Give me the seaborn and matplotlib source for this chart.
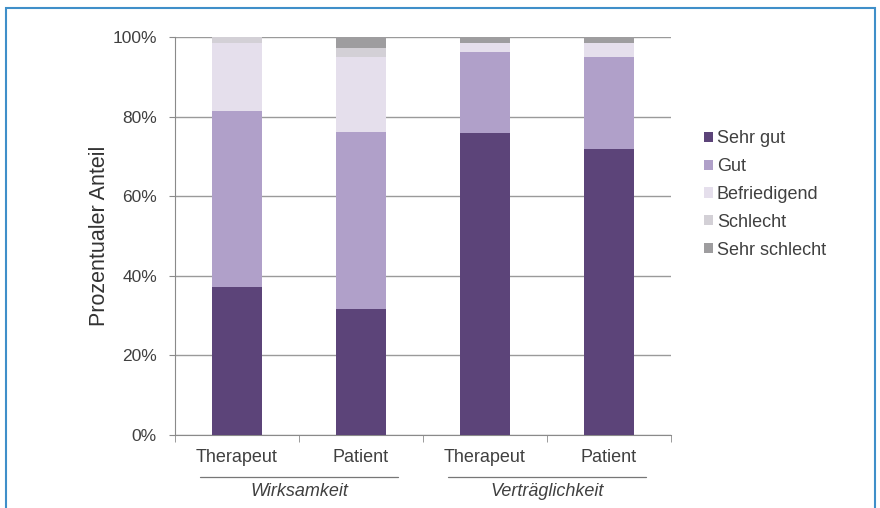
import numpy as np
import pandas as pd
import seaborn as sns
import matplotlib.pyplot as plt
from matplotlib.patches import Rectangle, Patch
from matplotlib.lines import Line2D

# --- data (percent per rating) ---
groups = ["Wirksamkeit", "Wirksamkeit", "Verträglichkeit", "Verträglichkeit"]
raters = ["Therapeut", "Patient", "Therapeut", "Patient"]
ratings = ["Sehr gut", "Gut", "Befriedigend", "Schlecht", "Sehr schlecht"]
sehr_gut = [37.2, 31.7, 75.9, 71.9]
gut = [44.3, 44.4, 20.3, 23.2]
befriedigend = [16.9, 19.0, 2.2, 3.5]
schlecht = [1.6, 2.2, 0.0, 0.0]
sehr_schlecht = [0.0, 2.7, 1.6, 1.4]
colors = ["#5c4479", "#b0a0c9", "#e5dfec", "#d3d0d6", "#9e9d9f"]

# --- build table ---
keys = [f"{g}-{r}" for g, r in zip(groups, raters)]
df = pd.DataFrame({"key": keys, "Sehr gut": sehr_gut, "Gut": gut,
                   "Befriedigend": befriedigend, "Schlecht": schlecht,
                   "Sehr schlecht": sehr_schlecht})
cum = df[ratings].cumsum(axis=1)

sns.set_style("white")
plt.rcParams["font.family"] = ["Liberation Sans", "DejaVu Sans"]

fig = plt.figure(figsize=(8.8, 5.08), dpi=100)
ax = fig.add_axes([175 / 880, 1 - 435 / 508, 496 / 880, 398 / 508])

# stacked bars: draw cumulative totals from the top layer down
for rating, col in zip(ratings[::-1], colors[::-1]):
    sns.barplot(x=df["key"], y=cum[rating], order=keys, color=col,
                width=0.4, saturation=1, linewidth=0, edgecolor="none",
                ax=ax, zorder=3)

ax.set_ylim(0, 100)
ax.set_xlim(-0.5, 3.5)
ax.set_yticks(np.arange(0, 101, 20))
ax.set_yticklabels([f"{v}%" for v in range(0, 101, 20)])
ax.yaxis.grid(True, color="#9a9a9a", linewidth=1, zorder=0)
ax.set_axisbelow(True)
for s in ["top", "right"]:
    ax.spines[s].set_visible(False)
for s in ["left", "bottom"]:
    ax.spines[s].set_color("#8a8a8a")
ax.tick_params(axis="y", length=4, color="#8a8a8a", labelsize=12.5,
               labelcolor="#404040", pad=9, left=True)
ax.set_xticks(range(4))
ax.set_xticklabels(raters)
ax.tick_params(axis="x", length=0, labelsize=13, labelcolor="#404040", pad=10)
ax.set_xticks(np.arange(-0.5, 4, 1), minor=True)
ax.tick_params(axis="x", which="minor", length=5, color="#8a8a8a", bottom=True)
ax.set_xlabel("")
ax.set_ylabel("Prozentualer Anteil", fontsize=15.5, color="#333333", labelpad=2)

# group labels with lines
for i, g in enumerate(["Wirksamkeit", "Verträglichkeit"]):
    x0, x1 = 2 * i - 0.3, 2 * i + 1.3
    ax.add_line(Line2D([x0, x1], [-10.5, -10.5], color="#777777", lw=0.9,
                       transform=ax.transData, clip_on=False))
    ax.text(2 * i + 0.5, -14.2, g, ha="center", va="center", style="italic",
            fontsize=13, color="#404040", clip_on=False)

# legend
handles = [Patch(facecolor=c, edgecolor="none") for c in colors]
fig.legend(handles, ratings, loc="upper left", bbox_to_anchor=(688 / 880, 1 - 114 / 508),
           frameon=False, fontsize=13, handlelength=0.5, handleheight=0.5,
           handletextpad=0.2, labelspacing=0.6, labelcolor="#404040")

# blue frame around figure
fig.patches.append(Rectangle((6 / 880, -0.01), 869 / 880, 1 - 8 / 508 + 0.01,
                             transform=fig.transFigure, fill=False,
                             edgecolor="#3f8fc9", linewidth=1.5))

fig.savefig("out.png", dpi=100)
